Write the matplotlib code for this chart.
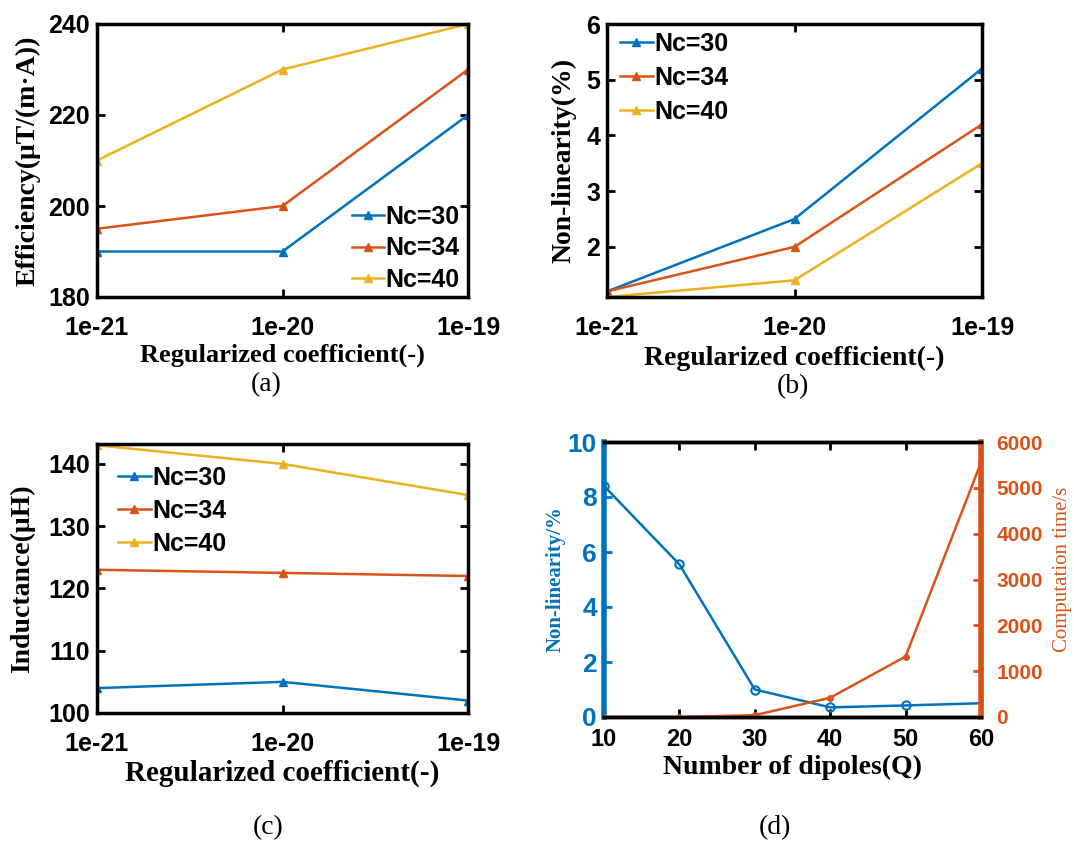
import matplotlib
matplotlib.use("Agg")
import matplotlib.pyplot as plt

# data
coef = [1e-21, 1e-20, 1e-19]
coef_labels = ["1e-21", "1e-20", "1e-19"]
nc_labels = ["Nc=30", "Nc=34", "Nc=40"]
eff_30 = [190, 190, 220]
eff_34 = [195, 200, 230]
eff_40 = [210, 230, 240]
nonlin_30 = [1.2, 2.5, 5.2]
nonlin_34 = [1.2, 2.0, 4.2]
nonlin_40 = [1.1, 1.4, 3.5]
ind_30 = [104, 105, 102]
ind_34 = [123, 122.5, 122]
ind_40 = [143, 140, 135]
dipoles = [10, 20, 30, 40, 50, 60]
dip_nonlin = [8.4, 5.55, 1.0, 0.35, 0.42, 0.5]
dip_time = [0, 0, 40, 420, 1320, 5550]

colors = ["#0072BD", "#D95319", "#EDB120"]
W, H = 1074, 843

fig = plt.figure(figsize=(W / 100, H / 100), dpi=100)


def box(l, r, t, b):
    return [l / W, 1 - b / H, (r - l) / W, (b - t) / H]


def boldticks(labels):
    for lab in labels:
        lab.set_fontfamily("Liberation Sans")
        lab.set_fontweight("bold")


def style(ax, xsize=18, ysize=18, xpad=14):
    for s in ax.spines.values():
        s.set_linewidth(2.5)
    ax.tick_params(direction="in", length=6, width=2, top=True, right=True)
    ax.tick_params(axis="x", labelsize=xsize, pad=xpad)
    ax.tick_params(axis="y", labelsize=ysize, pad=5)
    boldticks(ax.get_xticklabels() + ax.get_yticklabels())


def coef_panel(pos, series, ylim, yticks, ylabel, ylab_x, xlab_y, xlab_size,
               leg_xy, leg_space):
    ax = fig.add_axes(pos)
    for vals, c, lab in zip(series, colors, nc_labels):
        ax.plot(coef, vals, color=c, lw=1.8, marker="^", ms=6, label=lab)
    ax.set_xscale("log")
    ax.set_xlim(1e-21, 1e-19)
    ax.set_xticks(coef)
    ax.set_xticklabels(coef_labels)
    ax.minorticks_off()
    ax.set_ylim(*ylim)
    ax.set_yticks(yticks)
    ax.set_xlabel("Regularized coefficient(-)", family="Liberation Serif",
                  weight="bold", size=xlab_size, va="center")
    ax.xaxis.set_label_coords(0.5, xlab_y)
    ax.set_ylabel(ylabel, family="Liberation Serif", weight="bold", size=20, va="center")
    ax.yaxis.set_label_coords(ylab_x, 0.5)
    style(ax)
    ax.legend(loc="upper left", bbox_to_anchor=leg_xy, frameon=False,
              prop={"family": "Liberation Sans", "weight": "bold", "size": 18},
              handlelength=1.3, handletextpad=0.05, labelspacing=leg_space,
              borderaxespad=0, borderpad=0)
    return ax


coef_panel(box(97, 468, 24, 297), [eff_30, eff_34, eff_40], (180, 240),
           [180, 200, 220, 240], "Efficiency(μT/(m·A))", -0.186, -0.212, 19,
           (0.687, 0.337), 0.3)
coef_panel(box(607, 982, 24, 297), [nonlin_30, nonlin_34, nonlin_40], (1.1, 6),
           [2, 3, 4, 5, 6], "Non-linearity(%)", -0.115, -0.225, 20,
           (0.035, 0.971), 0.4)
coef_panel(box(97, 468, 444, 713), [ind_30, ind_34, ind_40], (100, 143.2),
           [100, 110, 120, 130, 140], "Inductance(μH)", -0.202, -0.225, 21,
           (0.057, 0.918), 0.35)

# panel (d)
ax = fig.add_axes(box(604, 981, 442, 717))
ax.plot(dipoles, dip_nonlin, color=colors[0], lw=1.8, marker="o", ms=6,
        mfc="none", mew=1.5, markevery=[0, 1, 2, 3, 4])
ax.set_xlim(10, 60)
ax.set_ylim(0, 10)
ax.set_xticks(dipoles)
ax.set_yticks([0, 2, 4, 6, 8, 10])
ax.set_xlabel("Number of dipoles(Q)", family="Liberation Serif", weight="bold",
              size=20, va="center")
ax.xaxis.set_label_coords(0.5, -0.182)
ax.set_ylabel("Non-linearity/%", family="Liberation Serif", weight="bold",
              size=15, color=colors[0], va="center")
ax.yaxis.set_label_coords(-0.127, 0.5)
style(ax, xsize=17, ysize=19, xpad=8)
ax.tick_params(right=False)
ax.tick_params(axis="y", colors=colors[0])
ax.spines["left"].set_color(colors[0])
ax.spines["left"].set_linewidth(4)

ax2 = ax.twinx()
ax2.plot(dipoles, dip_time, color=colors[1], lw=1.8, marker=".", ms=8)
ax2.set_ylim(0, 6000)
ax2.set_yticks(range(0, 6001, 1000))
ax2.set_ylabel("Computation time/s", family="Liberation Serif", size=15,
               color=colors[1], va="center", rotation=90)
ax2.yaxis.set_label_coords(1.216, 0.535)
for s in ax2.spines.values():
    s.set_linewidth(2.5)
ax2.spines["right"].set_color(colors[1])
ax2.spines["right"].set_linewidth(4)
ax2.spines["left"].set_visible(False)
ax2.tick_params(direction="in", length=6, width=2, labelsize=15, colors=colors[1], pad=11)
boldticks(ax2.get_yticklabels())

# captions
for txt, x, y in [("(a)", 266, 385), ("(b)", 793, 387), ("(c)", 268, 828), ("(d)", 775, 828)]:
    fig.text(x / W, 1 - y / H, txt, ha="center", va="center",
             family="Liberation Serif", size=20)

fig.savefig("out.png", dpi=100)
